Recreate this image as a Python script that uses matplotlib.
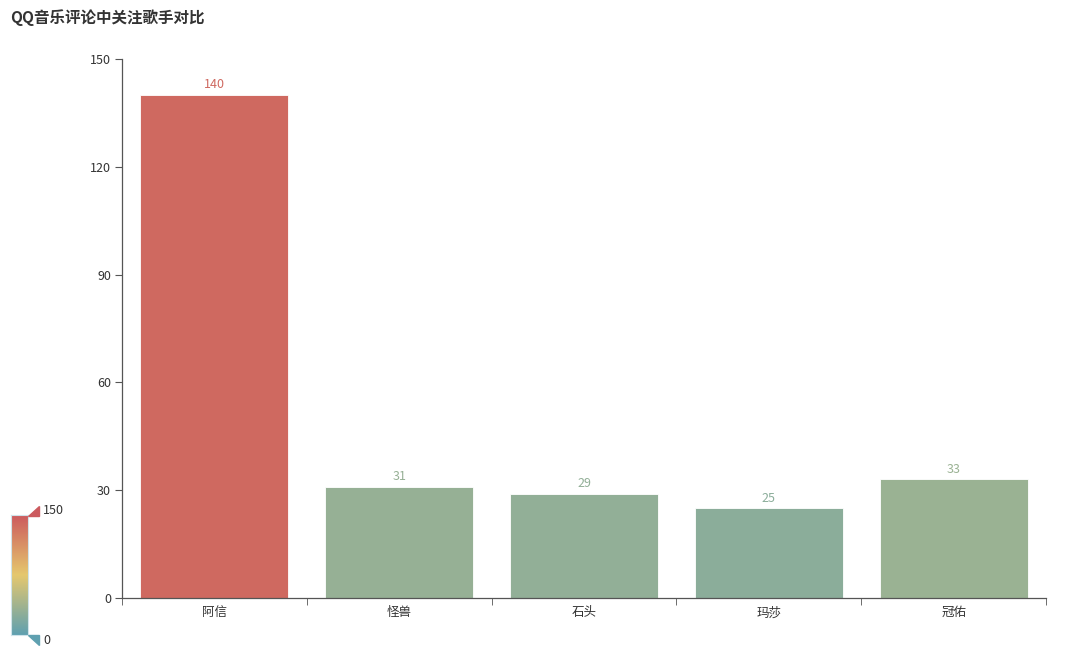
import numpy as np
import matplotlib
matplotlib.use("Agg")
import matplotlib.pyplot as plt
from matplotlib.colors import LinearSegmentedColormap, Normalize
from matplotlib.patches import Polygon

plt.rcParams['font.family'] = ['Noto Sans CJK SC', 'DejaVu Sans']

# data
singers = ['阿信', '怪兽', '石头', '玛莎', '冠佑']
counts = [140, 31, 29, 25, 33]
vmin, vmax = 0, 150
map_colors = ['#5fa0b0', '#e5c86e', '#cc5a5e']

cmap = LinearSegmentedColormap.from_list('vm', map_colors)
norm = Normalize(vmin, vmax)

W, H = 1080, 651
fig = plt.figure(figsize=(W / 100, H / 100), dpi=100)
ax = fig.add_axes([122 / W, 1 - 598 / H, (1046 - 122) / W, (598 - 59) / H])

x = np.arange(len(singers))
cols = [cmap(norm(v)) for v in counts]
bars = ax.bar(x, counts, width=0.8, color=cols, edgecolor='white', linewidth=0.6)
for xi, v, c in zip(x, counts, cols):
    ax.text(xi, v + 1, str(v), ha='center', va='bottom', fontsize=9, color=c)

ax.set_xlim(-0.5, len(singers) - 0.5)
ax.set_ylim(0, 150)
ax.set_yticks(range(0, 151, 30))
ax.set_xticks(x)
ax.set_xticklabels(singers)
ax.set_xticks(np.arange(-0.5, len(singers)), minor=True)
ax.tick_params(axis='x', which='major', length=0, pad=6, labelsize=9, labelcolor='#333333')
ax.tick_params(axis='x', which='minor', length=5, color='#555555', direction='out')
ax.tick_params(axis='y', length=5, color='#555555', labelsize=9, labelcolor='#333333', pad=3)
for s in ['top', 'right']:
    ax.spines[s].set_visible(False)
for s in ['left', 'bottom']:
    ax.spines[s].set_color('#555555')
    ax.spines[s].set_linewidth(0.9)

fig.text(10 / W, 1 - 18 / H, 'QQ音乐评论中关注歌手对比', fontsize=11.2, fontweight='bold',
         color='#333333', ha='left', va='center')

# visual map legend
cax = fig.add_axes([11 / W, 1 - 635 / H, 17 / W, 120 / H])
grad = np.linspace(vmax, vmin, 256).reshape(-1, 1)
cax.imshow(grad, aspect='auto', cmap=cmap, norm=norm, extent=[0, 1, vmin, vmax])
cax.set_xticks([])
cax.set_yticks([])
for s in cax.spines.values():
    s.set_color('#cfe3ea')
    s.set_linewidth(0.8)

over = fig.add_axes([0, 0, 1, 1], facecolor='none')
over.set_xlim(0, W)
over.set_ylim(H, 0)
over.axis('off')
over.add_patch(Polygon([[28, 516], [39, 516], [39, 506]], closed=True, color=cmap(1.0)))
over.add_patch(Polygon([[28, 635], [39, 635], [39, 645]], closed=True, color=cmap(0.0)))
over.text(43, 510, str(vmax), fontsize=9, color='#333333', va='center', ha='left')
over.text(43, 640, str(vmin), fontsize=9, color='#333333', va='center', ha='left')

fig.savefig('out.png', dpi=100)
